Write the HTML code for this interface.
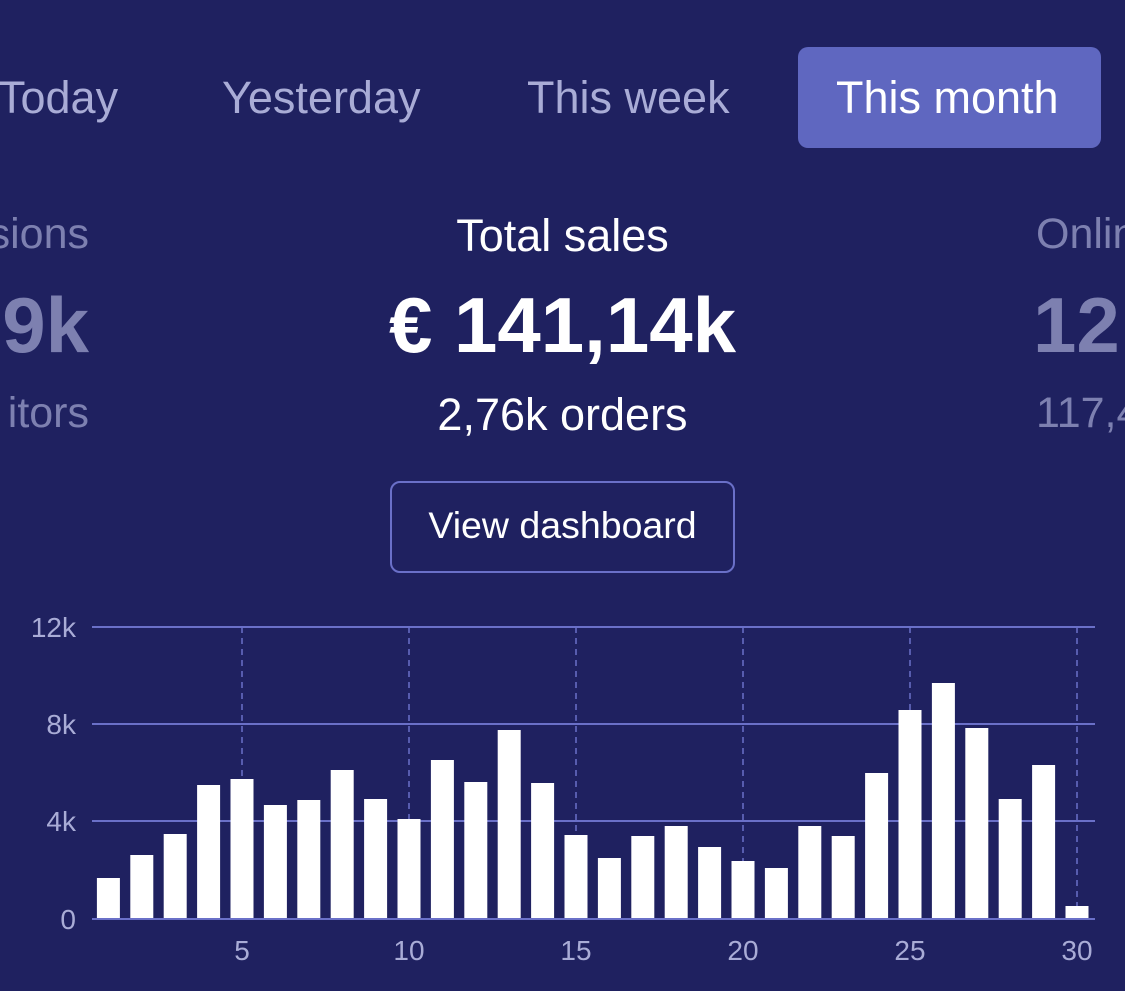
<!DOCTYPE html>
<html><head><style>
body{margin:0;width:1125px;height:991px;background:#1f2160;overflow:hidden;position:relative;font-family:"Liberation Sans",sans-serif;}
.t{position:absolute;white-space:nowrap;}
.tab{font-size:45px;color:#a9acd6;top:72px;}
</style></head><body>
<div class="t tab" style="left:-2px">Today</div>
<div class="t tab" style="left:222px">Yesterday</div>
<div class="t tab" style="left:527px">This week</div>
<div style="position:absolute;left:798px;top:47px;width:303px;height:101px;background:#5f67c0;border-radius:10px"></div>
<div class="t tab" style="left:836px;color:#fff">This month</div>

<div class="t" style="right:1036px;top:210px;font-size:43px;color:#7d80b0">sions</div>
<div class="t" style="right:1036px;top:280px;font-size:78px;font-weight:bold;color:#7d80b0">9k</div>
<div class="t" style="right:1036px;top:389px;font-size:43px;color:#7d80b0">itors</div>

<div class="t" style="left:0;width:1125px;text-align:center;top:210px;font-size:45px;color:#fff">Total sales</div>
<div class="t" style="left:0;width:1125px;text-align:center;top:280px;font-size:78px;font-weight:bold;color:#fff">€ 141,14k</div>
<div class="t" style="left:0;width:1125px;text-align:center;top:389px;font-size:45px;color:#fff">2,76k orders</div>

<div class="t" style="left:1036px;top:210px;font-size:43px;color:#7d80b0">Onlin</div>
<div class="t" style="left:1033px;top:280px;font-size:78px;font-weight:bold;color:#7d80b0">12</div>
<div class="t" style="left:1036px;top:389px;font-size:43px;color:#7d80b0">117,4</div>

<div style="position:absolute;left:390px;top:481px;width:341px;height:88px;border:2px solid #6a70c8;border-radius:10px;box-sizing:content-box"></div>
<div class="t" style="left:390px;width:345px;text-align:center;top:504px;font-size:37.5px;color:#fff">View dashboard</div>

<svg width="1125" height="991" style="position:absolute;left:0;top:0">
<g stroke="#6a70c8" stroke-width="2">
<line x1="92" y1="627" x2="1095" y2="627"/><line x1="92" y1="724" x2="1095" y2="724"/>
<line x1="92" y1="821" x2="1095" y2="821"/><line x1="92" y1="919" x2="1095" y2="919"/>
</g>
<g stroke="#6a70c8" stroke-width="1.5" stroke-dasharray="6,5">
<line x1="242" y1="627" x2="242" y2="919"/><line x1="409" y1="627" x2="409" y2="919"/>
<line x1="576" y1="627" x2="576" y2="919"/><line x1="743" y1="627" x2="743" y2="919"/>
<line x1="910" y1="627" x2="910" y2="919"/><line x1="1077" y1="627" x2="1077" y2="919"/>
</g>
<g fill="#fff" id="bars"></g>
<g fill="#a9acd6" font-family="Liberation Sans" font-size="28" text-anchor="end">
<text x="76" y="637">12k</text><text x="76" y="734">8k</text><text x="76" y="831">4k</text><text x="76" y="929">0</text>
</g>
<g fill="#a9acd6" font-family="Liberation Sans" font-size="28" text-anchor="middle">
<text x="242" y="960">5</text><text x="409" y="960">10</text><text x="576" y="960">15</text>
<text x="743" y="960">20</text><text x="910" y="960">25</text><text x="1077" y="960">30</text>
</g>
</svg>
<script>
var tops=[878,855,834,785,779,805,800,770,799,819,760,782,730,783,835,858,836,826,847,861,868,826,836,773,710,683,728,799,765,906];
var g=document.getElementById('bars'),s='';
tops.forEach(function(t,i){var c=242+(i-4)*33.4;s+='<rect x="'+(c-11.5)+'" y="'+t+'" width="23" height="'+(918-t)+'"/>';});
g.innerHTML=s;
</script>
</body></html>
